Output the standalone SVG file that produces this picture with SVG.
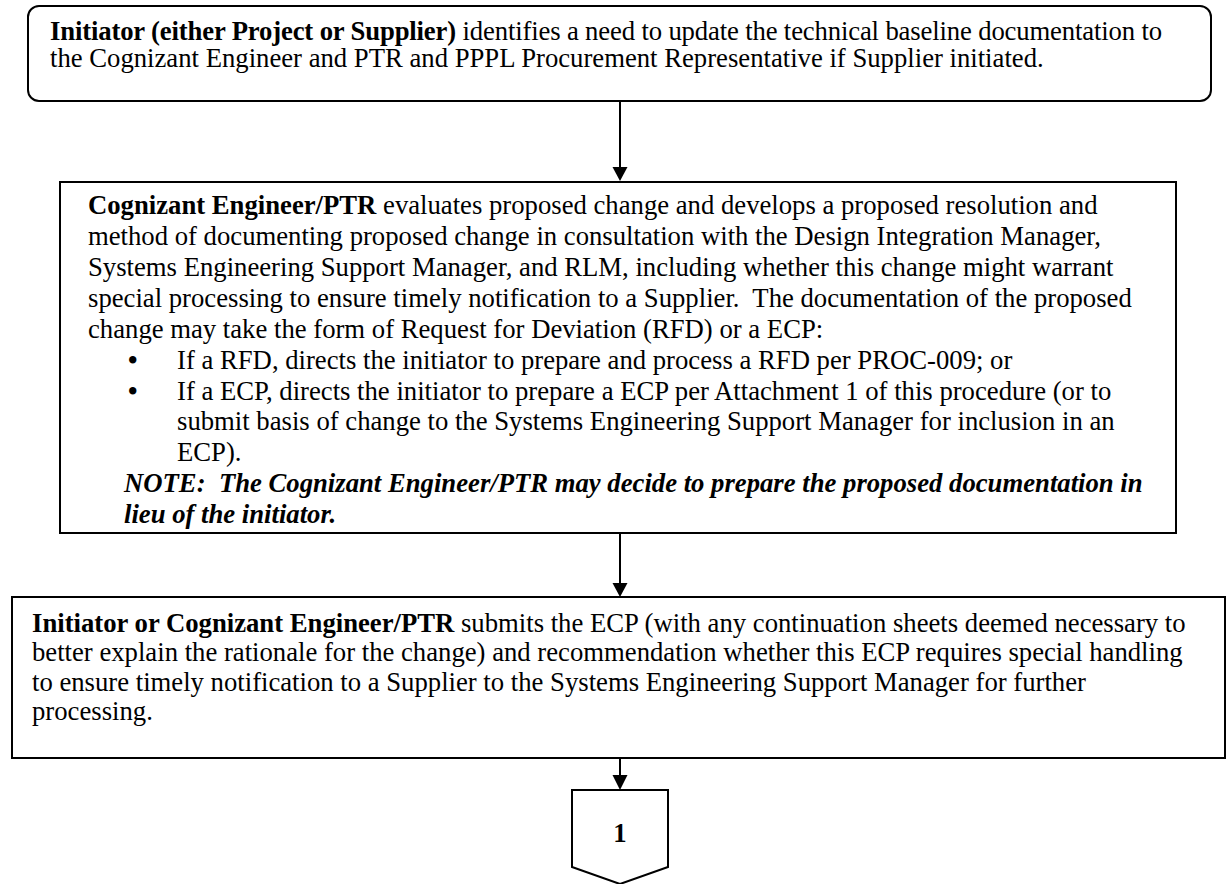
<svg xmlns="http://www.w3.org/2000/svg" width="1227" height="884" viewBox="0 0 1227 884">
<defs>
<style>
.box{fill:#fff;stroke:#000;stroke-width:2}
.t{font-family:"Liberation Serif","Times New Roman",serif;font-size:26.7px;fill:#000}
.b{font-weight:bold}
.bi{font-weight:bold;font-style:italic}
.bul{font-family:"Liberation Serif","Times New Roman",serif;font-size:27px;font-weight:bold;fill:#000}
.conn{stroke:#000;stroke-width:2;fill:none}
.head{fill:#000}
</style>
</defs>
<rect width="1227" height="884" fill="#fff"/>
<g id="connectors">
<line class="conn" x1="620" y1="101" x2="620" y2="167"/>
<path class="head" d="M612.5,167 L627.5,167 L620,181 z"/>
<line class="conn" x1="620" y1="533" x2="620" y2="583"/>
<path class="head" d="M612.5,583 L627.5,583 L620,597 z"/>
<line class="conn" x1="620" y1="758" x2="620" y2="775"/>
<path class="head" d="M612.5,775 L627.5,775 L620,790 z"/>
</g>
<g id="node1">
<rect class="box" x="28" y="6" width="1183" height="95" rx="11" ry="11"/>
<text class="t" x="50" y="40" textLength="1112" lengthAdjust="spacing"><tspan class="b">Initiator (either Project or Supplier)</tspan> identifies a need to update the technical baseline documentation to</text>
<text class="t" x="50" y="67">the Cognizant Engineer and PTR and PPPL Procurement Representative if Supplier initiated.</text>
</g>
<g id="node2">
<rect class="box" x="60" y="182" width="1116" height="351"/>
<text class="t" x="88" y="214"><tspan class="b">Cognizant Engineer/PTR</tspan> evaluates proposed change and develops a proposed resolution and</text>
<text class="t" x="88" y="245">method of documenting proposed change in consultation with the Design Integration Manager,</text>
<text class="t" x="88" y="276">Systems Engineering Support Manager, and RLM, including whether this change might warrant</text>
<text class="t" x="88" y="307" xml:space="preserve">special processing to ensure timely notification to a Supplier.  The documentation of the proposed</text>
<text class="t" x="88" y="338">change may take the form of Request for Deviation (RFD) or a ECP:</text>
<text class="bul" x="128" y="369">•</text>
<text class="t" x="177" y="369">If a RFD, directs the initiator to prepare and process a RFD per PROC-009; or</text>
<text class="bul" x="128" y="400">•</text>
<text class="t" x="177" y="400">If a ECP, directs the initiator to prepare a ECP per Attachment 1 of this procedure (or to</text>
<text class="t" x="177" y="430">submit basis of change to the Systems Engineering Support Manager for inclusion in an</text>
<text class="t" x="177" y="461">ECP).</text>
<text class="t bi" x="124" y="492" xml:space="preserve">NOTE:  The Cognizant Engineer/PTR may decide to prepare the proposed documentation in</text>
<text class="t bi" x="124" y="523">lieu of the initiator.</text>
</g>
<g id="node3">
<rect class="box" x="12" y="597" width="1213" height="161"/>
<text class="t" x="32" y="632"><tspan class="b">Initiator or Cognizant Engineer/PTR</tspan> submits the ECP (with any continuation sheets deemed necessary to</text>
<text class="t" x="32" y="661">better explain the rationale for the change) and recommendation whether this ECP requires special handling</text>
<text class="t" x="32" y="691">to ensure timely notification to a Supplier to the Systems Engineering Support Manager for further</text>
<text class="t" x="32" y="720">processing.</text>
</g>
<g id="node4">
<path class="box" d="M572,790 L668,790 L668,867 L620,884 L572,867 z"/>
<text class="t b" x="620" y="842" text-anchor="middle">1</text>
</g>
</svg>
